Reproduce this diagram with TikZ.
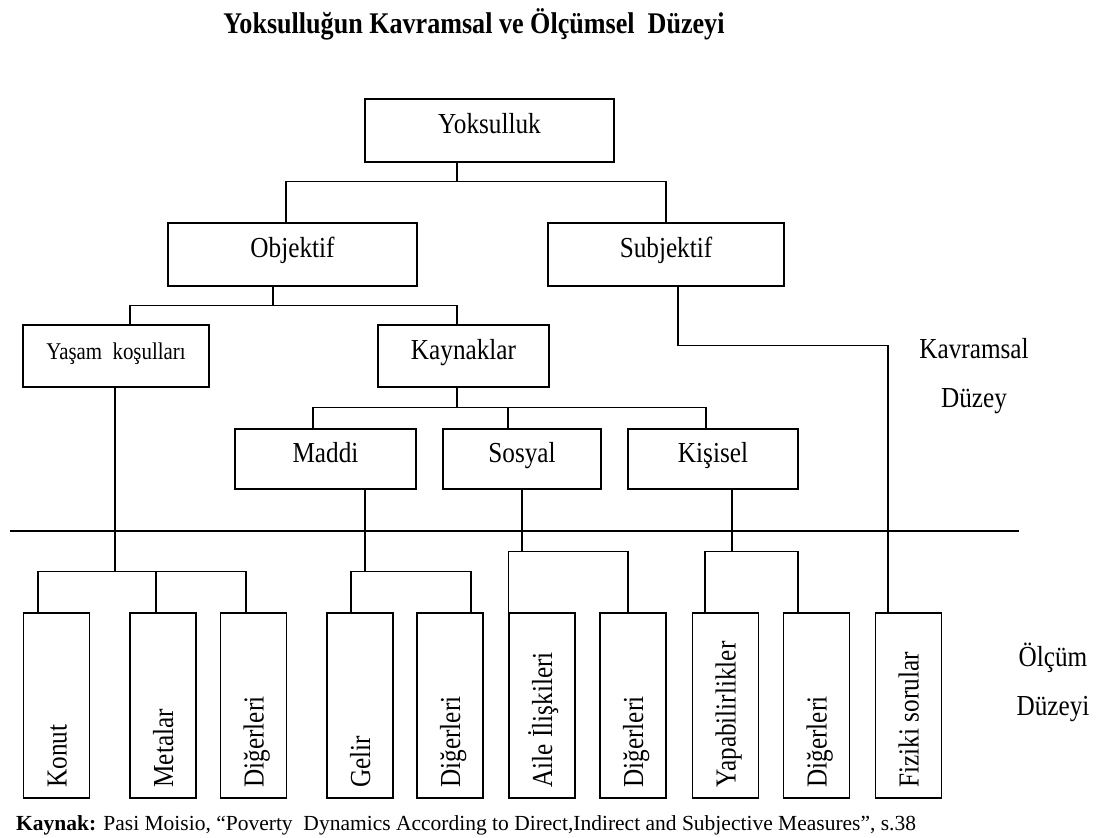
\documentclass[tikz,border=0pt]{standalone}
\usepackage{fontspec}
\setmainfont{Liberation Serif}[FakeStretch=0.87]
\newfontfamily\footfont{Liberation Serif}
\begin{document}
\begin{tikzpicture}[x=1pt,y=-1pt]
\tikzset{
  body/.style={font=\fontsize{29}{34}\selectfont},
  hbox/.style={draw, line width=1.4pt, inner sep=0pt, text height=20pt, text depth=14pt, body},
  vbox/.style={draw, line width=1.4pt, inner sep=0pt, minimum width=66pt, minimum height=185pt},
  vlabel/.style={rotate=90, anchor=west, inner sep=0pt, text height=20pt, text depth=0pt, body},
  conn/.style={line width=1.4pt},
  side/.style={anchor=base, inner sep=0pt, body},
}
\useasboundingbox (0,0) rectangle (1104,838);
% title
\node[anchor=base, inner sep=0pt, font=\bfseries\fontsize{30}{36}\selectfont] (title) at (474,33) {Yoksulluğun Kavramsal ve Ölçümsel\ \ Düzeyi};
% upper boxes
\node[hbox, minimum width=249pt, minimum height=63pt] (yok) at (489.5,130.5) {Yoksulluk};
\node[hbox, minimum width=249pt, minimum height=63pt] (obj) at (292.5,254.5) {Objektif};
\node[hbox, minimum width=236pt, minimum height=63pt] (subj) at (666,254.5) {Subjektif};
\node[hbox, minimum width=186pt, minimum height=62pt, font=\fontsize{24}{28}\selectfont, text height=17pt, text depth=11pt] (yas) at (116,356) {Yaşam\ \ koşulları};
\node[hbox, minimum width=171pt, minimum height=62pt] (kay) at (463.5,356) {Kaynaklar};
\node[hbox, minimum width=181pt, minimum height=60pt] (maddi) at (325.5,459) {Maddi};
\node[hbox, minimum width=158pt, minimum height=60pt] (sosyal) at (522,459) {Sosyal};
\node[hbox, minimum width=170pt, minimum height=60pt] (kisisel) at (713,459) {Kişisel};
% bottom boxes
\node[vbox] (konut) at (56.5,705.5) {};
\node[vbox] (metalar) at (163,705.5) {};
\node[vbox] (dig1) at (253.5,705.5) {};
\node[vbox] (gelir) at (360,705.5) {};
\node[vbox] (dig2) at (450,705.5) {};
\node[vbox] (aile) at (542,705.5) {};
\node[vbox] (dig3) at (633,705.5) {};
\node[vbox] (yap) at (725.5,705.5) {};
\node[vbox] (dig4) at (816.5,705.5) {};
\node[vbox] (fiz) at (908.5,705.5) {};
\node[vlabel] (konutT) at ([yshift=11pt]konut.south) {Konut};
\node[vlabel] (metalarT) at ([yshift=11pt]metalar.south) {Metalar};
\node[vlabel] (dig1T) at ([yshift=11pt]dig1.south) {Diğerleri};
\node[vlabel] (gelirT) at ([yshift=11pt]gelir.south) {Gelir};
\node[vlabel] (dig2T) at ([yshift=11pt]dig2.south) {Diğerleri};
\node[vlabel] (aileT) at ([yshift=11pt]aile.south) {Aile İlişkileri};
\node[vlabel] (dig3T) at ([yshift=11pt]dig3.south) {Diğerleri};
\node[vlabel] (yapT) at ([yshift=11pt]yap.south) {Yapabilirlikler};
\node[vlabel] (dig4T) at ([yshift=11pt]dig4.south) {Diğerleri};
\node[vlabel] (fizT) at ([yshift=11pt]fiz.south) {Fiziki sorular};
% side labels
\node[side] (kav1) at (974,358) {Kavramsal};
\node[side] (kav2) at (974,407) {Düzey};
\node[side] (olc1) at (1053,666) {Ölçüm};
\node[side] (olc2) at (1053,715) {Düzeyi};
% divider
\coordinate (divL) at (10,531);
\coordinate (divR) at (1019,531);
\draw[conn] (divL) -- (divR);
% connectors
\draw[conn] ([xshift=-32.5pt]yok.south) -- ++(0,19) coordinate (j1);
\draw[conn] ([xshift=-6.5pt]obj.north) |- (j1) -| (subj.north);
\draw[conn] ([xshift=-19.5pt]obj.south) -- ++(0,19) coordinate (j2);
\draw[conn] ([xshift=14pt]yas.north) |- (j2) -| ([xshift=-6.5pt]kay.north);
\draw[conn] ([xshift=-6.5pt]kay.south) -- ++(0,20) coordinate (j3);
\draw[conn] ([xshift=-12.5pt]maddi.north) |- (j3) -| ([xshift=-7pt]kisisel.north);
\draw[conn] ([xshift=-14pt]sosyal.north) -- ([xshift=-14pt]sosyal.north |- j3);
\draw[conn] ([xshift=12pt]subj.south) -- ++(0,59) -| ([xshift=-20.5pt]fiz.north);
\draw[conn] ([xshift=-1pt]yas.south) -- ++(0,184) coordinate (j5);
\draw[conn] ([xshift=-18.5pt]konut.north) |- (j5) -| ([xshift=-7.5pt]dig1.north);
\draw[conn] ([xshift=-7pt]metalar.north) -- ([xshift=-7pt]metalar.north |- j5);
\draw[conn] ([xshift=39.5pt]maddi.south) -- ++(0,82) coordinate (j6);
\draw[conn] ([xshift=-9pt]gelir.north) |- (j6) -| ([xshift=21pt]dig2.north);
\draw[conn] (sosyal.south) -- ++(0,62) coordinate (j7);
\draw[conn] (aile.north west) |- (j7) -| ([xshift=-5pt]dig3.north);
\draw[conn] ([xshift=19pt]kisisel.south) -- ++(0,62) coordinate (j8);
\draw[conn] ([xshift=-20.5pt]yap.north) |- (j8) -| ([xshift=-18.5pt]dig4.north);
% footer
\node[anchor=base west, inner sep=0pt, font=\footfont\fontsize{21.5}{26}\selectfont] (src) at (16,830) {\textbf{Kaynak:} Pasi Moisio, “Poverty\ \ Dynamics According to Direct,Indirect and Subjective Measures”, s.38};
\end{tikzpicture}
\end{document}
